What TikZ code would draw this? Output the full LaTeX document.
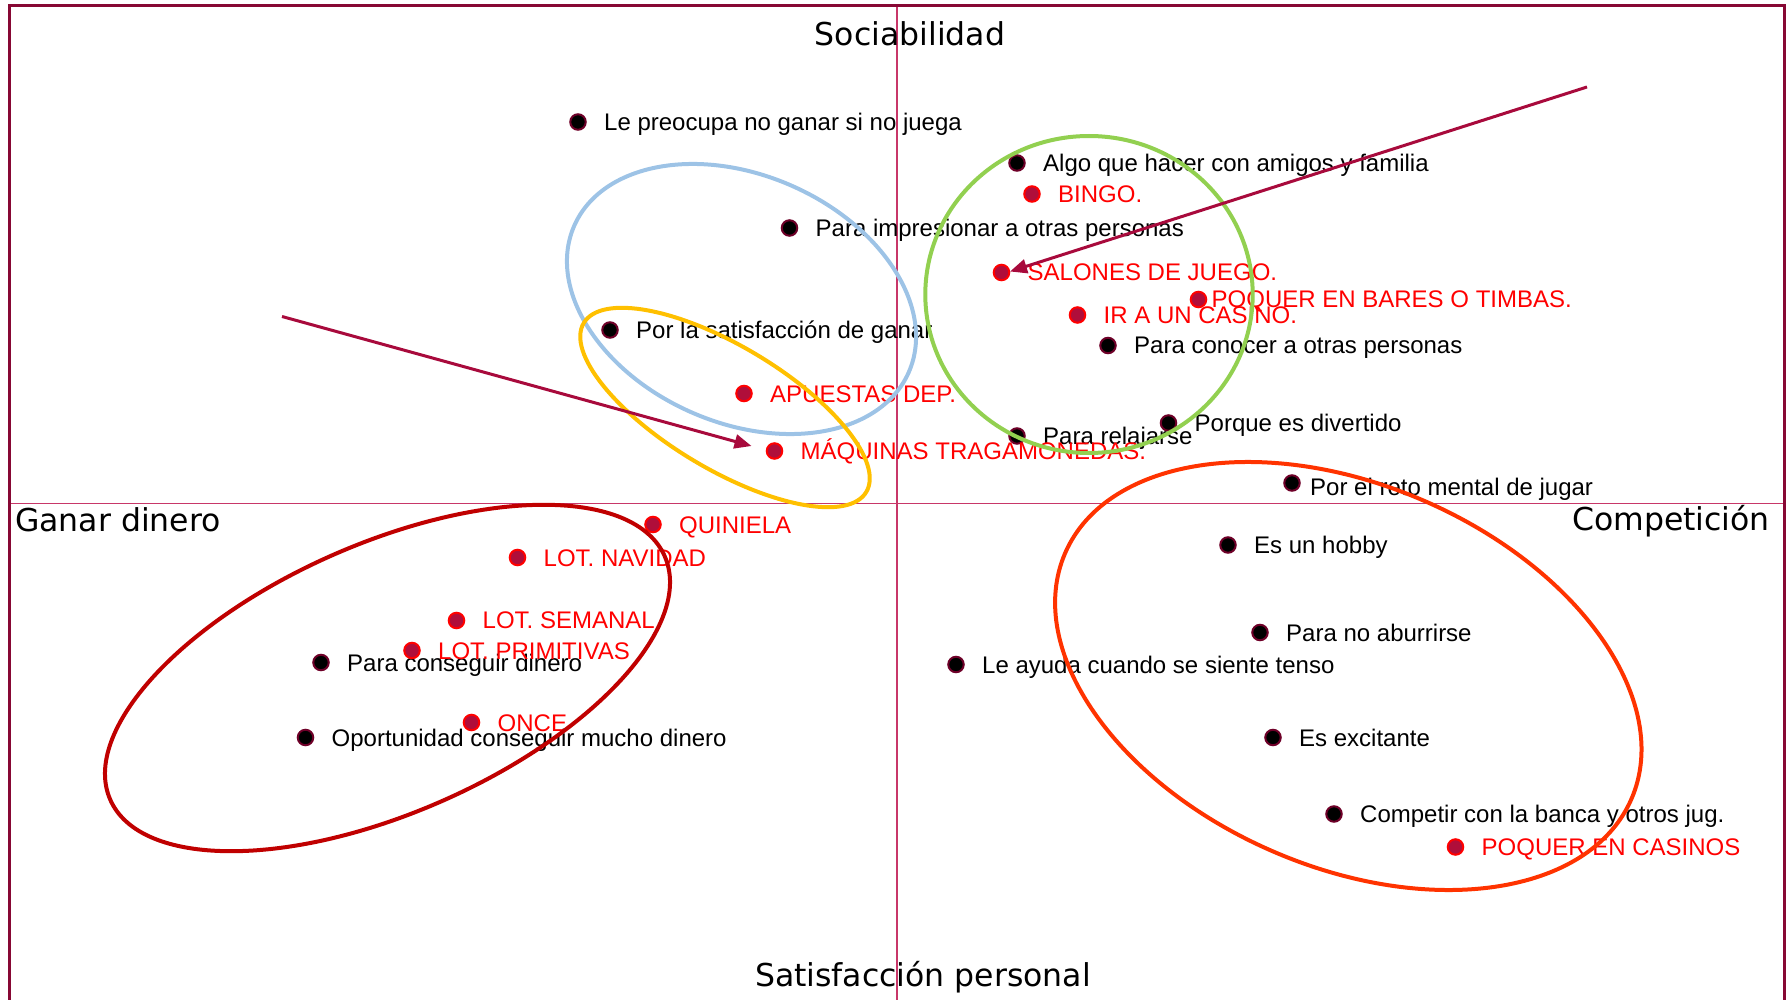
\documentclass[tikz,border=0pt]{standalone}
\usepackage{fontspec}
\setmainfont{Liberation Sans}
\newfontfamily\axisfont{DejaVu Sans}
\usetikzlibrary{arrows.meta}
\definecolor{dotedge}{RGB}{110,0,40}
\definecolor{rdotfill}{RGB}{176,14,58}
\definecolor{arrC}{RGB}{168,10,60}
\definecolor{axisC}{RGB}{200,55,105}
\definecolor{frameC}{RGB}{135,8,52}
\definecolor{blueE}{RGB}{157,195,230}
\definecolor{yellowE}{RGB}{255,192,0}
\definecolor{greenE}{RGB}{146,208,80}
\definecolor{dredE}{RGB}{192,0,0}
\definecolor{orangeE}{RGB}{255,51,0}
\tikzset{
  bdot/.style={circle, fill=black, draw=dotedge, line width=2pt, minimum size=15.5pt, inner sep=0pt},
  rdot/.style={circle, fill=rdotfill, draw=red, line width=2pt, minimum size=15.5pt, inner sep=0pt},
  blab/.style={anchor=base west, inner sep=0pt, text=black, font=\fontsize{24}{28}\selectfont},
  rlab/.style={blab, text=red},
  axlab/.style={inner sep=0pt, font=\axisfont\fontsize{31.5}{36}\selectfont},
  ell/.style={line width=4pt},
  arr/.style={draw=arrC, line width=3pt, -{Triangle[length=17pt,width=14pt]}},
  axisline/.style={draw=axisC, line width=1.5pt},
  frameline/.style={draw=frameC, line width=3pt},
}
\newcommand\bpt[6]{%
  \node[bdot] (#1) at (#2,#3) {};
  \node[blab] (#1-t) at ([shift={(#4,#5)}]#1.center) {#6};}
\newcommand\rpt[6]{%
  \node[rdot] (#1) at (#2,#3) {};
  \node[rlab] (#1-t) at ([shift={(#4,#5)}]#1.center) {#6};}
\begin{document}
\begin{tikzpicture}[x=1pt,y=-1pt]
\useasboundingbox (0,0) rectangle (1789,1000);
% axes
\coordinate (hl) at (9,503.5); \coordinate (hr) at (1784.5,503.5);
\coordinate (vt) at (897,5.5); \coordinate (vb) at (897,1000);
\draw[axisline] (hl) -- (hr);
\draw[axisline] (vt) -- (vb);
% frame
\coordinate (fbl) at (9,1000); \coordinate (ftl) at (9,5.5);
\coordinate (ftr) at (1784.5,5.5); \coordinate (fbr) at (1784.5,1000);
\draw[frameline] (fbl) -- (ftl) -- (ftr) -- (fbr);
% axis labels
\node[axlab, anchor=base] (soc) at (910,46) {Sociabilidad};
\node[axlab, anchor=base west] (gan) at (15,531.5) {Ganar dinero};
\node[axlab, anchor=base east] (com) at (1770,530) {Competición};
\node[axlab, anchor=base] (sat) at (923,986.5) {Satisfacción personal};
% black points
\bpt{p1}{578}{122}{26}{8.5}{Le preocupa no ganar si no juega}
\bpt{p2}{1017}{163}{26}{8.5}{Algo que hacer con amigos y familia}
\bpt{p3}{789.5}{228}{26}{8.5}{Para impresionar a otras personas}
\bpt{p4}{610}{330}{26}{8.5}{Por la satisfacción de ganar}
\bpt{p5}{1108}{345.5}{26}{8.5}{Para conocer a otras personas}
\bpt{p6}{1017}{436}{26}{8.5}{Para relajarse}
\bpt{p7}{1168.5}{423}{26}{8.5}{Porque es divertido}
\bpt{p8}{1292}{483}{18}{12}{Por el reto mental de jugar}
\bpt{p9}{1228}{545}{26}{8.5}{Es un hobby}
\bpt{p10}{1260}{632.5}{26}{8.5}{Para no aburrirse}
\bpt{p11}{956}{664.5}{26}{8.5}{Le ayuda cuando se siente tenso}
\bpt{p12}{1273}{737.5}{26}{8.5}{Es excitante}
\bpt{p13}{1334}{814}{26}{8.5}{Competir con la banca y otros jug.}
\bpt{p14}{321}{662.5}{26}{8.5}{Para conseguir dinero}
\bpt{p15}{305.5}{737.5}{26}{8.5}{Oportunidad conseguir mucho dinero}
% red points
\rpt{r1}{1032}{194}{26}{8.5}{BINGO.}
\rpt{r2}{1001.5}{272.5}{26}{8}{SALONES DE JUEGO.}
\rpt{r3}{1198.5}{299.5}{13}{8}{POQUER EN BARES O TIMBAS.}
\rpt{r4}{1077.5}{315}{26}{8.5}{IR A UN CASINO.}
\rpt{r5}{744}{393.5}{26}{8.5}{APUESTAS DEP.}
\rpt{r6}{774.5}{451}{26}{8.5}{MÁQUINAS TRAGAMONEDAS.}
\rpt{r7}{653}{524.5}{26}{8.5}{QUINIELA}
\rpt{r8}{517.5}{557.5}{26}{8.5}{LOT. NAVIDAD}
\rpt{r9}{456.5}{620.5}{26}{8}{LOT. SEMANAL}
\rpt{r10}{412}{650.5}{26}{8.5}{LOT. PRIMITIVAS}
\rpt{r11}{471.5}{722.5}{26}{8.5}{ONCE}
\rpt{r12}{1455.5}{847}{26}{8.5}{POQUER EN CASINOS}
% ellipses
\draw[ell, draw=blueE, rotate around={-23.6:(741.5,299)}] (741.5,299) ellipse [x radius=182.6pt, y radius=123.9pt];
\draw[ell, draw=yellowE, rotate around={-30.9:(725,407.5)}] (725,407.5) ellipse [x radius=164.6pt, y radius=61.6pt];
\draw[ell, draw=greenE] (1089,294.5) ellipse [x radius=163.7pt, y radius=158.5pt];
\draw[ell, draw=dredE, rotate around={23.7:(387.5,678)}] (387.5,678) ellipse [x radius=302.8pt, y radius=134.6pt];
\draw[ell, draw=orangeE, rotate around={-23.5:(1348.3,676)}] (1348.3,676) ellipse [x radius=308.7pt, y radius=190.9pt];
% arrows
\coordinate (a1s) at (282,316.5); \coordinate (a1e) at (751.5,446);
\coordinate (a2s) at (1587,87); \coordinate (a2e) at (1010,271.5);
\draw[arr] (a1s) -- (a1e);
\draw[arr] (a2s) -- (a2e);
\end{tikzpicture}
\end{document}
